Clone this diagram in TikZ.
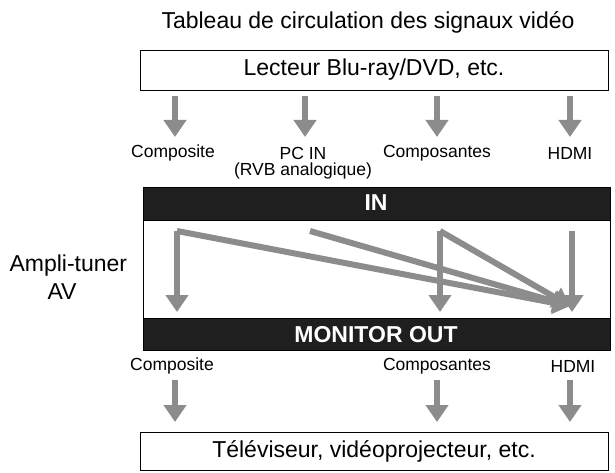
\documentclass[tikz,border=0pt]{standalone}
\usepackage{fontspec}
\setmainfont{Liberation Sans}
\usetikzlibrary{arrows.meta}
\begin{document}
\begin{tikzpicture}[x=1pt,y=-1pt,
  arr/.style={draw=gray!90!white,line width=6pt,-{Triangle[width=22pt,length=17pt]}},
  box/.style={draw=black,line width=0.8pt,fill=white},
  bar/.style={fill=black!88,draw=black},
  big/.style={font=\fontsize{23}{26}\selectfont},
  bb/.style={text=white,font=\fontsize{23}{26}\bfseries},
  sm/.style={font=\fontsize{17.5}{20}\selectfont}]
\useasboundingbox (0,0) rectangle (615,473);
\node[big] (title) at (368,22) {Tableau de circulation des signaux vidéo};
\draw[box] (140,50) rectangle (608,90);
\node[big] (src) at (374,70) {Lecteur Blu-ray/DVD, etc.};
\foreach \x in {175,305,437,570}{\draw[arr] (\x,96) -- (\x,137);}
\node[sm] (c1) at (173,153) {Composite};
\node[sm] (c2) at (303,153) {PC IN};
\node[sm] (c2b) at (303,171) {(RVB analogique)};
\node[sm] (c3) at (437,153) {Composantes};
\node[sm] (c4) at (570,153) {HDMI};
\draw[box,fill=white] (143,187) rectangle (610,350);
\draw[bar] (143,187) rectangle (610,220);
\node[bb] (in) at (376,203) {IN};
\draw[bar] (143,318) rectangle (610,350);
\node[bb] (out) at (376,335) {MONITOR OUT};
\node[big,anchor=west] (amp) at (6,266) {Ampli-tuner};
\node[big] (av) at (62,292) {AV};
% internal arrows
\coordinate (p1) at (177,231);
\coordinate (p2) at (310,231);
\coordinate (p3) at (440,231);
\coordinate (h) at (570,306);
\draw[arr] (p1) -- (177,312);
\draw[arr] (p1) -- (h);
\draw[arr] (p2) -- (h);
\draw[arr] (p3) -- (440,312);
\draw[arr] (p3) -- (h);
\draw[arr] (572,231) -- (572,312);
\node[sm] (o1) at (172,366) {Composite};
\node[sm] (o3) at (437,366) {Composantes};
\node[sm] (o4) at (573,366) {HDMI};
\foreach \x in {175,437,570}{\draw[arr] (\x,380) -- (\x,422);}
\draw[box] (140,432) rectangle (608,470);
\node[big] (dst) at (374,451) {Téléviseur, vidéoprojecteur, etc.};
\end{tikzpicture}
\end{document}
